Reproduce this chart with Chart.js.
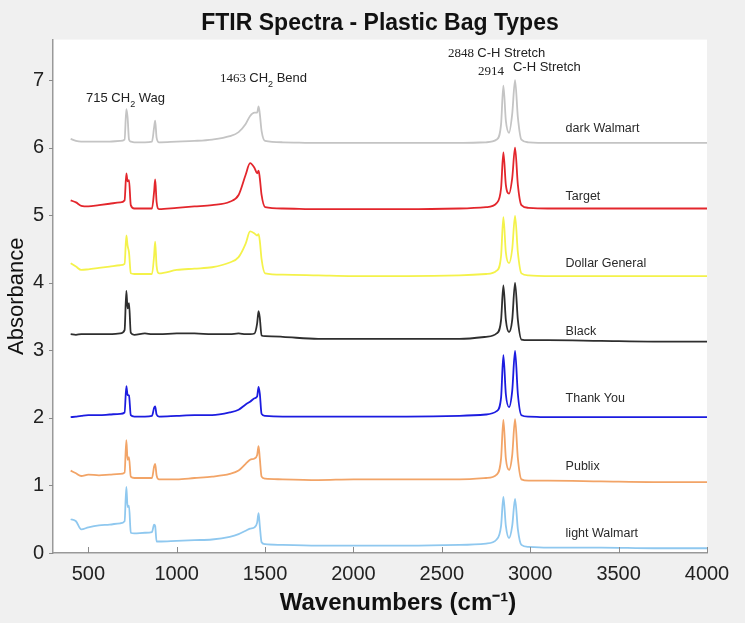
<!DOCTYPE html>
<html>
<head>
<meta charset="utf-8">
<script src="https://cdn.jsdelivr.net/npm/chart.js@4.4.0/dist/chart.umd.min.js"></script>
<style>
  html, body { margin: 0; padding: 0; background: #f0f0f0; }
  #wrap { width: 745px; height: 623px; }
</style>
</head>
<body>
<div id="wrap"><canvas id="ftirChart" width="745" height="623"></canvas></div>
<script>
// shared wavenumber grid (cm-1)
var wavenumbers = [400, 430, 460, 500, 560, 620, 680, 705, 715, 722, 730, 740, 760, 820, 860, 872, 878, 886, 900,
    1000, 1100, 1200, 1300, 1350, 1390, 1415, 1440, 1455, 1463, 1470, 1480, 1500, 1600, 1800, 2000, 2300, 2600,
    2750, 2810, 2835, 2848, 2862, 2880, 2898, 2914, 2930, 2950, 2990, 3100, 3400, 3700, 4000];

// absorbance values (already offset per bag)
var darkWalmart = [6.13, 6.10, 6.09, 6.09, 6.09, 6.09, 6.10, 6.12, 6.57, 6.45, 6.12, 6.09, 6.08, 6.08, 6.09, 6.30, 6.40, 6.15, 6.08,
    6.09, 6.10, 6.12, 6.17, 6.23, 6.35, 6.47, 6.52, 6.52, 6.61, 6.50, 6.25, 6.10, 6.08, 6.07, 6.07, 6.07, 6.07,
    6.08, 6.12, 6.35, 6.92, 6.40, 6.22, 6.50, 7.00, 6.45, 6.12, 6.08, 6.07, 6.07, 6.07, 6.07];
var target = [5.22, 5.19, 5.14, 5.13, 5.15, 5.17, 5.19, 5.22, 5.62, 5.50, 5.52, 5.15, 5.10, 5.10, 5.10, 5.35, 5.53, 5.20, 5.09,
    5.11, 5.13, 5.15, 5.20, 5.30, 5.60, 5.77, 5.70, 5.62, 5.66, 5.55, 5.30, 5.12, 5.10, 5.09, 5.09, 5.09, 5.10,
    5.12, 5.18, 5.40, 5.93, 5.45, 5.32, 5.55, 6.00, 5.45, 5.15, 5.11, 5.10, 5.10, 5.10, 5.10];
var dollarGeneral = [4.29, 4.24, 4.19, 4.20, 4.22, 4.24, 4.26, 4.28, 4.70, 4.55, 4.45, 4.14, 4.13, 4.13, 4.13, 4.40, 4.61, 4.25, 4.14,
    4.19, 4.21, 4.23, 4.30, 4.38, 4.58, 4.76, 4.73, 4.70, 4.72, 4.62, 4.35, 4.14, 4.12, 4.11, 4.10, 4.10, 4.11,
    4.13, 4.18, 4.40, 4.97, 4.45, 4.29, 4.50, 4.99, 4.45, 4.14, 4.11, 4.10, 4.10, 4.10, 4.10];
var black = [3.24, 3.23, 3.24, 3.24, 3.24, 3.24, 3.25, 3.30, 3.88, 3.62, 3.70, 3.26, 3.23, 3.25, 3.24, 3.24, 3.24, 3.24, 3.24,
    3.25, 3.25, 3.24, 3.24, 3.25, 3.24, 3.24, 3.25, 3.40, 3.58, 3.48, 3.22, 3.21, 3.20, 3.17, 3.17, 3.17, 3.17,
    3.20, 3.25, 3.45, 3.96, 3.45, 3.27, 3.45, 4.00, 3.45, 3.16, 3.15, 3.15, 3.14, 3.13, 3.13];
var thankYou = [2.01, 2.02, 2.03, 2.04, 2.04, 2.05, 2.06, 2.08, 2.47, 2.34, 2.33, 2.04, 2.02, 2.02, 2.03, 2.15, 2.17, 2.05, 2.02,
    2.03, 2.04, 2.04, 2.08, 2.12, 2.20, 2.24, 2.29, 2.32, 2.46, 2.36, 2.06, 2.03, 2.02, 2.02, 2.02, 2.02, 2.03,
    2.05, 2.10, 2.30, 2.93, 2.35, 2.16, 2.40, 2.99, 2.35, 2.04, 2.02, 2.01, 2.01, 2.01, 2.01];
var publix = [1.22, 1.18, 1.14, 1.16, 1.15, 1.16, 1.17, 1.19, 1.67, 1.38, 1.42, 1.13, 1.11, 1.11, 1.11, 1.28, 1.32, 1.15, 1.09,
    1.09, 1.11, 1.13, 1.17, 1.22, 1.32, 1.38, 1.40, 1.45, 1.58, 1.40, 1.13, 1.10, 1.09, 1.08, 1.09, 1.09, 1.09,
    1.11, 1.16, 1.40, 1.97, 1.40, 1.23, 1.45, 1.98, 1.40, 1.09, 1.07, 1.07, 1.06, 1.05, 1.05];
var lightWalmart = [0.50, 0.47, 0.35, 0.38, 0.41, 0.42, 0.44, 0.47, 0.98, 0.68, 0.70, 0.30, 0.29, 0.30, 0.31, 0.42, 0.40, 0.17, 0.17,
    0.18, 0.19, 0.20, 0.24, 0.28, 0.33, 0.36, 0.38, 0.45, 0.59, 0.40, 0.16, 0.13, 0.12, 0.11, 0.11, 0.11, 0.12,
    0.14, 0.20, 0.40, 0.83, 0.40, 0.22, 0.40, 0.80, 0.35, 0.12, 0.09, 0.08, 0.08, 0.07, 0.07];

var bagNames = ['dark Walmart', 'Target', 'Dollar General', 'Black', 'Thank You', 'Publix', 'light Walmart'];
var bagSeries = [darkWalmart, target, dollarGeneral, black, thankYou, publix, lightWalmart];
var bagColors = ['#c4c4c4', '#e3262c', '#f4f24a', '#2e2e2e', '#1c1ce0', '#f2a467', '#8fc8ef'];
var bagOffsets = [6, 5, 4, 3, 2, 1, 0];

var xTicks = [500, 1000, 1500, 2000, 2500, 3000, 3500, 4000];
var yTicks = [0, 1, 2, 3, 4, 5, 6, 7];

function toPoints(arr) {
    var pts = [];
    for (var i = 0; i < wavenumbers.length; i++) {
        pts.push({ x: wavenumbers[i], y: arr[i] });
    }
    return pts;
}

var datasets = [];
for (var i = 0; i < bagSeries.length; i++) {
    datasets.push({
        label: bagNames[i],
        data: toPoints(bagSeries[i]),
        borderColor: bagColors[i],
        borderWidth: 1.8,
        pointRadius: 0,
        cubicInterpolationMode: 'monotone',
        fill: false
    });
}

var SANS = '"Liberation Sans", Arial, sans-serif';
var SERIF = '"Liberation Serif", "Times New Roman", serif';

// peak annotations, anchored in data units
var peakNotes = [
    { x: 487, y: 6.67, parts: [['715 CH', 'sans'], ['2', 'sub'], [' Wag', 'sans']] },
    { x: 1245, y: 6.97, parts: [['1463 ', 'serif'], ['CH', 'sans'], ['2', 'sub'], [' Bend', 'sans']] },
    { x: 2535, y: 7.34, parts: [['2848 ', 'serif'], ['C-H Stretch', 'sans']] },
    { x: 2704, y: 7.07, parts: [['2914', 'serif']] },
    { x: 2902, y: 7.14, parts: [['C-H Stretch', 'sans']] }
];

function drawParts(ctx, x, y, parts) {
    ctx.textBaseline = 'alphabetic';
    ctx.textAlign = 'left';
    for (var k = 0; k < parts.length; k++) {
        var kind = parts[k][1];
        var dy = 0;
        if (kind == 'serif') ctx.font = '13px ' + SERIF;
        else if (kind == 'sub') { ctx.font = '9px ' + SANS; dy = 5; }
        else ctx.font = '13px ' + SANS;
        ctx.fillText(parts[k][0], x, y + dy);
        x += ctx.measureText(parts[k][0]).width;
    }
}

var ftirPlugin = {
    id: 'ftirDecor',
    beforeDraw: function (chart) {
        var a = chart.chartArea, ctx = chart.ctx;
        ctx.save();
        ctx.fillStyle = '#ffffff';
        ctx.fillRect(a.left, a.top, a.right - a.left, a.bottom - a.top);
        ctx.restore();
    },
    afterDraw: function (chart) {
        var ctx = chart.ctx, a = chart.chartArea;
        var xs = chart.scales.x, ys = chart.scales.y;
        ctx.save();
        // x ticks point into the plot, y ticks point out of it
        ctx.strokeStyle = '#8a8a8a';
        ctx.lineWidth = 1;
        ctx.beginPath();
        xTicks.forEach(function (v) {
            var px = Math.round(xs.getPixelForValue(v)) + 0.5;
            ctx.moveTo(px, a.bottom);
            ctx.lineTo(px, a.bottom - 6);
        });
        yTicks.forEach(function (v) {
            var py = Math.round(ys.getPixelForValue(v)) + 0.5;
            ctx.moveTo(a.left, py);
            ctx.lineTo(a.left - 4, py);
        });
        ctx.stroke();

        ctx.fillStyle = '#222';
        peakNotes.forEach(function (n) {
            drawParts(ctx, xs.getPixelForValue(n.x), ys.getPixelForValue(n.y), n.parts);
        });

        // bag names beside each trace
        ctx.font = '12.5px ' + SANS;
        ctx.fillStyle = '#2a2a2a';
        ctx.textBaseline = 'alphabetic';
        for (var i = 0; i < bagNames.length; i++) {
            ctx.fillText(bagNames[i], xs.getPixelForValue(3200), ys.getPixelForValue(bagOffsets[i] + 0.23));
        }
        ctx.restore();
    }
};

const ftirChart = new Chart(document.getElementById('ftirChart'), {
    type: 'line',
    data: { datasets: datasets },
    plugins: [ftirPlugin],
    options: {
        responsive: false,
        animation: false,
        layout: { padding: { left: 0, right: 38, top: 0, bottom: 0 } },
        plugins: {
            legend: { display: false },
            tooltip: { enabled: false },
            title: {
                display: true,
                fullSize: false,
                text: 'FTIR Spectra - Plastic Bag Types',
                color: '#111',
                font: { family: SANS, size: 23, weight: 'bold' },
                padding: { top: 10, bottom: 2 }
            }
        },
        scales: {
            x: {
                type: 'linear',
                min: 300,
                max: 4000,
                afterFit: function (s) { s.height = 70; },
                afterBuildTicks: function (s) { s.ticks = xTicks.map(function (v) { return { value: v }; }); },
                ticks: {
                    color: '#222',
                    padding: 9,
                    maxRotation: 0,
                    autoSkip: false,
                    font: { family: SANS, size: 20 },
                    callback: function (v) { return String(v); }
                },
                grid: { drawOnChartArea: false, drawTicks: false },
                border: { display: true, color: '#999', width: 1.5 },
                title: {
                    display: true,
                    text: '\u2002\u2002\u2002Wavenumbers (cm\u207B\u00B9)',
                    color: '#111',
                    font: { family: SANS, size: 24, weight: 'bold' },
                    padding: { top: 0, bottom: 5 }
                }
            },
            y: {
                min: 0,
                max: 7.6,
                afterFit: function (s) { s.width = 53; },
                afterBuildTicks: function (s) { s.ticks = yTicks.map(function (v) { return { value: v }; }); },
                ticks: {
                    color: '#222',
                    padding: 9,
                    autoSkip: false,
                    font: { family: SANS, size: 20 },
                    callback: function (v) { return String(v); }
                },
                grid: { drawOnChartArea: false, drawTicks: false },
                border: { display: true, color: '#999', width: 1.5 },
                title: {
                    display: true,
                    text: 'Absorbance',
                    color: '#111',
                    font: { family: SANS, size: 22 },
                    padding: { top: 4, bottom: 0 }
                }
            }
        }
    }
});
</script>
</body>
</html>
